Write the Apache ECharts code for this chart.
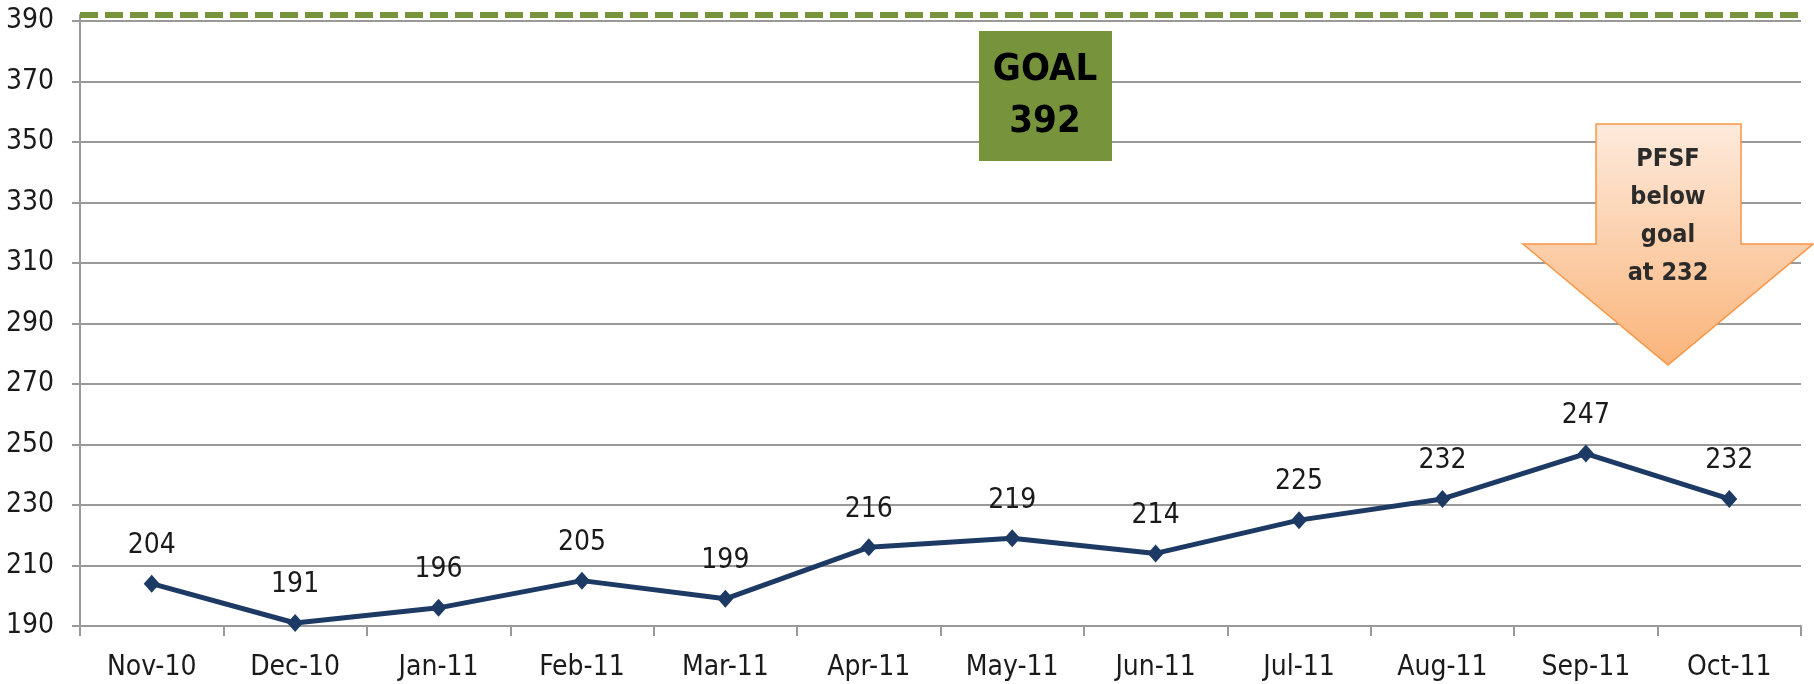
<!DOCTYPE html>
<html>
<head>
<meta charset="utf-8">
<script src="https://cdn.jsdelivr.net/npm/echarts@6/dist/echarts.min.js"></script>
<style>
html, body {margin: 0; padding: 0; background: #fff;}
#chart {width: 1814px; height: 684px;}
</style>
</head>
<body>
<div id="chart"></div>
<script>
// PFSF monthly counts
var months = ['Nov-10', 'Dec-10', 'Jan-11', 'Feb-11', 'Mar-11', 'Apr-11',
              'May-11', 'Jun-11', 'Jul-11', 'Aug-11', 'Sep-11', 'Oct-11'];
var pfsf = [204, 191, 196, 205, 199, 216, 219, 214, 225, 232, 247, 232];
var yTicks = [190, 210, 230, 250, 270, 290, 310, 330, 350, 370, 390];
var goal = 392;

var font = '"Liberation Sans Narrow", "DejaVu Sans Condensed", sans-serif';
var gridColor = '#999999';

var chart = echarts.init(document.getElementById('chart'));

var lastValue = pfsf[pfsf.length - 1];

chart.setOption({
    backgroundColor: '#ffffff',
    animation: false,
    grid: {left: 80, right: 13, top: 15, bottom: 58},
    xAxis: {
        type: 'category',
        data: months,
        boundaryGap: true,
        axisLine: {lineStyle: {color: gridColor, width: 2}},
        axisTick: {show: true, length: 10, lineStyle: {color: gridColor, width: 2}},
        axisLabel: {color: '#1a1a1a', fontFamily: font, fontSize: 28, margin: 28}
    },
    yAxis: {
        type: 'value',
        min: yTicks[0],
        max: goal,
        interval: 20,
        axisLine: {show: true, lineStyle: {color: gridColor, width: 2}},
        axisTick: {show: true, inside: false, length: 8, customValues: yTicks,
                   lineStyle: {color: gridColor, width: 2}},
        axisLabel: {color: '#1a1a1a', fontFamily: font, fontSize: 28, margin: 26,
                    customValues: yTicks},
        splitLine: {lineStyle: {color: gridColor, width: 2}}
    },
    series: [{
        name: 'PFSF',
        type: 'line',
        data: pfsf,
        symbol: 'diamond',
        symbolSize: [16, 18],
        lineStyle: {color: '#1c3a64', width: 5},
        itemStyle: {color: '#1c3a64'},
        label: {
            show: true,
            position: 'top',
            distance: 15,
            color: '#1a1a1a',
            fontFamily: font,
            fontSize: 28
        },
        markLine: {
            silent: true,
            symbol: 'none',
            label: {show: false},
            lineStyle: {color: '#77933c', width: 6, type: [18, 7]},
            data: [{yAxis: goal}]
        },
        z: 5
    }],
    graphic: [
        {
            type: 'rect',
            shape: {x: 979, y: 31, width: 133, height: 130},
            style: {fill: '#77933c'},
            z: 10
        },
        {
            type: 'text',
            x: 1045, y: 96,
            style: {
                text: 'GOAL\n' + goal,
                fill: '#000',
                font: 'bold 38px ' + font,
                align: 'center',
                verticalAlign: 'middle',
                lineHeight: 52
            },
            z: 11
        },
        {
            type: 'polygon',
            shape: {points: [[1596, 124], [1741, 124], [1741, 244], [1813, 244],
                             [1668, 365], [1523, 244], [1596, 244]]},
            style: {
                fill: new echarts.graphic.LinearGradient(0, 0, 0, 1, [
                    {offset: 0, color: '#fdeadc'},
                    {offset: 1, color: '#fab47a'}
                ]),
                stroke: '#f79646',
                lineWidth: 1.5
            },
            z: 10
        },
        {
            type: 'text',
            x: 1668, y: 216,
            style: {
                text: 'PFSF\nbelow\ngoal\nat ' + lastValue,
                fill: '#2b2b2b',
                font: 'bold 25px ' + font,
                align: 'center',
                verticalAlign: 'middle',
                lineHeight: 38
            },
            z: 11
        }
    ]
});
</script>
</body>
</html>
